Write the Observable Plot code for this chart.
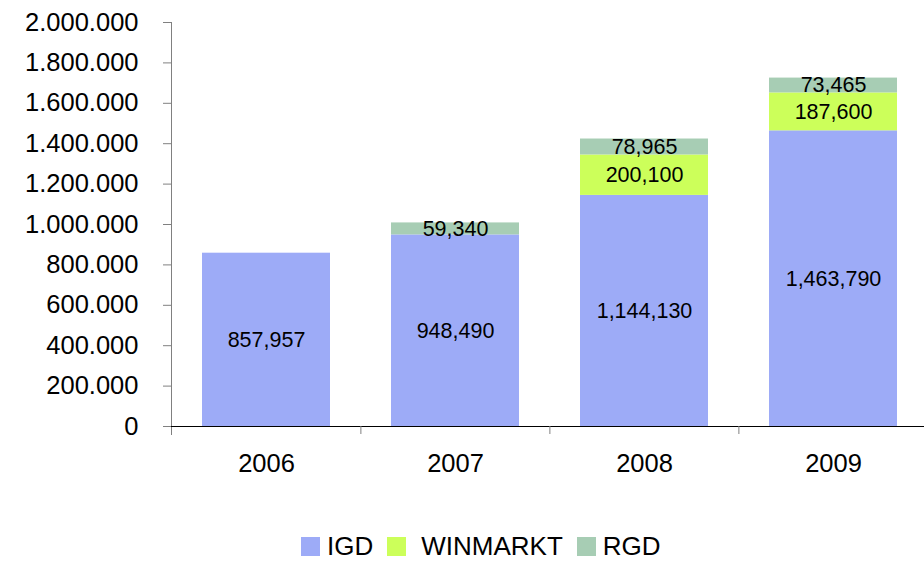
<!DOCTYPE html>
<html><head><meta charset="utf-8">
<script src="https://cdn.jsdelivr.net/npm/d3@7"></script>
<script src="https://cdn.jsdelivr.net/npm/@observablehq/plot@0.6"></script>
<style>
body{margin:0;background:#fff;font-family:Arial,"Liberation Sans",sans-serif;overflow:hidden}
#legend{display:flex;align-items:center;margin-top:55px;padding-left:301px;font-size:26px;line-height:22px;color:#000;height:22px}
#legend .item{display:flex;align-items:center;margin-right:14px}
#legend .sw{width:19px;height:19px;margin-right:7px}
</style>
</head><body><div id="chart"></div><div id="legend"></div><script>
const years = ["2006", "2007", "2008", "2009"];
const seriesNames = ["IGD", "WINMARKT", "RGD"];
const seriesColors = ["#9DABF7", "#CCFF5A", "#A7CDB4"];
const igd = [857957, 948490, 1144130, 1463790];
const winmarkt = [0, 0, 200100, 187600];
const rgd = [0, 59340, 78965, 73465];
const yTicks = [0, 200000, 400000, 600000, 800000, 1000000, 1200000, 1400000, 1600000, 1800000, 2000000];

const seriesValues = [igd, winmarkt, rgd];
const rows = [];
years.forEach((yr, i) => seriesNames.forEach((s, j) => {
  const v = seriesValues[j][i];
  if (v > 0) rows.push({year: yr, series: s, value: v});
}));

const fmtDot = d3.formatLocale({decimal: ",", thousands: ".", grouping: [3], currency: ["", ""]}).format(",");
const fmtComma = d3.format(",");

const xRange = [171, 928];
const step = (xRange[1] - xRange[0]) / years.length;

const chart = Plot.plot({
  width: 924, height: 480,
  marginTop: 22, marginBottom: 54, marginLeft: 171, marginRight: 0,
  style: {fontFamily: "Arial, 'Liberation Sans', sans-serif", fontSize: "25.5px", color: "#000", background: "#fff", overflow: "visible"},
  x: {domain: years, range: xRange, paddingInner: 0.325, paddingOuter: 0.1625, label: null},
  y: {domain: [0, 2000000], label: null},
  color: {domain: seriesNames, range: seriesColors},
  marks: [
    Plot.barY(rows, Plot.stackY({x: "year", y: "value", fill: "series", order: seriesNames})),
    Plot.text(rows, Plot.stackY({x: "year", y: "value", z: "series", order: seriesNames, text: d => fmtComma(d.value), fontSize: 21.5, fill: "#000"})),
    Plot.frame({anchor: "left", stroke: "#808080", insetBottom: -8}),
    Plot.ruleY([0], {stroke: "#000"}),
    Plot.ruleX(years.slice(1), {x: d => d, dx: -step / 2, y1: 0, y2: 0, insetBottom: -8, stroke: "#808080"}),
    Plot.axisY({ticks: yTicks, tickFormat: fmtDot, tickSize: 8, tickPadding: 25, stroke: "#808080", fill: "#000", label: null}),
    Plot.axisX({tickSize: 0, tickPadding: 27, label: null})
  ]
});
document.getElementById("chart").appendChild(chart);

const legend = document.getElementById("legend");
seriesNames.forEach((s, j) => {
  const item = document.createElement("div");
  item.className = "item";
  const sw = document.createElement("div");
  sw.className = "sw";
  sw.style.background = seriesColors[j];
  const t = document.createElement("span");
  t.textContent = s;
  if (j === 1) t.style.paddingLeft = "8px";
  item.appendChild(sw);
  item.appendChild(t);
  legend.appendChild(item);
});
</script></body></html>
